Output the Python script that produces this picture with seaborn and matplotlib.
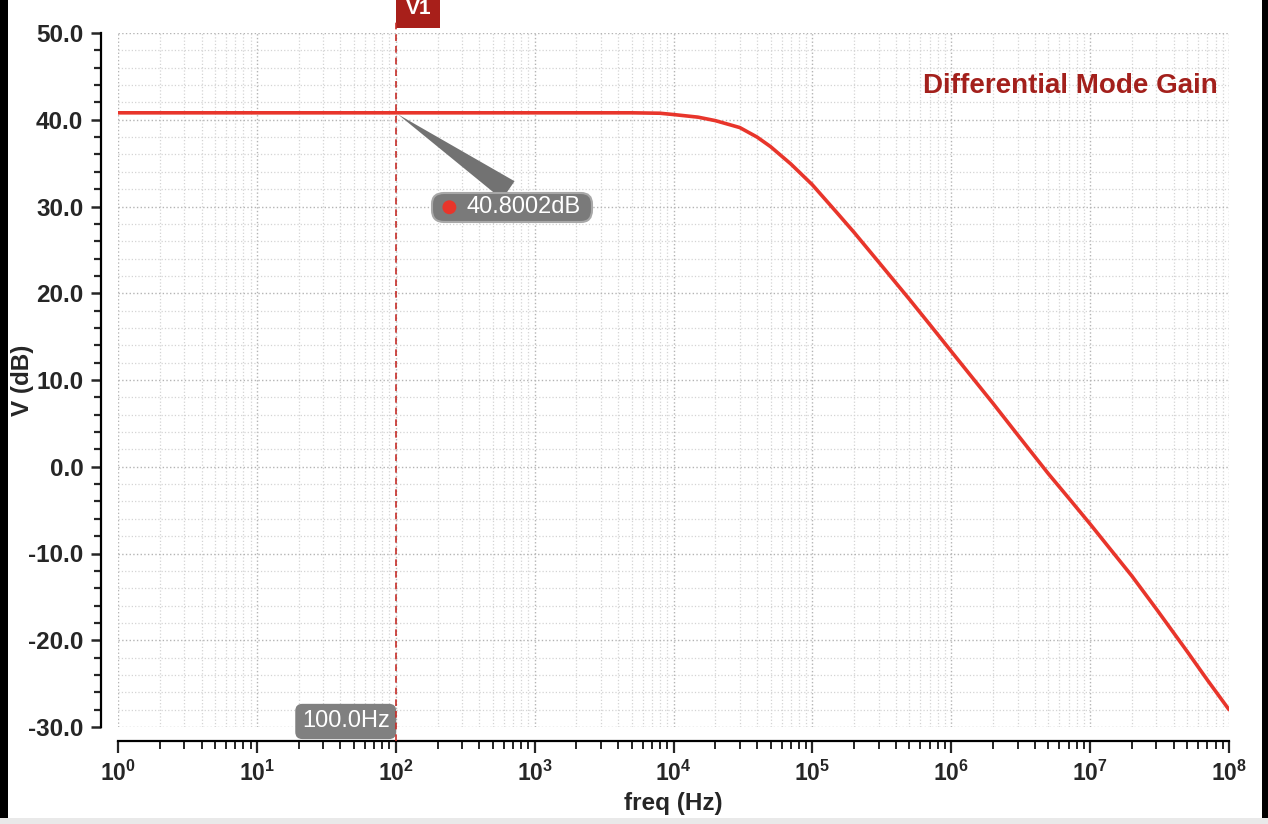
import numpy as np
import pandas as pd
import matplotlib
matplotlib.use("Agg")
from matplotlib import pyplot as plt
from matplotlib import ticker
from matplotlib.patches import Rectangle, Circle
from matplotlib.offsetbox import AnnotationBbox, DrawingArea, TextArea, HPacker
import seaborn as sns

# differential mode gain (Hz, dB)
freq_hz = [1, 10, 100, 1e3, 5e3, 8e3, 1e4, 1.5e4, 2e4, 3e4, 4e4, 5e4, 7e4,
           1e5, 1.5e5, 2e5, 3e5, 5e5, 7e5, 1e6, 2e6, 3e6, 5e6, 7e6,
           1e7, 2e7, 3e7, 5e7, 7e7, 1e8]
gain_db = [40.8, 40.8, 40.8, 40.8, 40.8, 40.75, 40.6, 40.3, 39.9, 39.1, 38.0, 36.9, 34.9,
           32.5, 29.3, 27.0, 23.6, 19.3, 16.4, 13.3, 7.3, 3.7, -0.8, -3.6,
           -6.6, -12.6, -16.4, -21.3, -24.6, -28.0]

# cursor marker
cursor_name = "V1"
cursor_freq = 100.0
cursor_gain = 40.8002
cursor_freq_label = "100.0Hz"
cursor_gain_label = "40.8002dB"

title = "Differential Mode Gain"
x_label = "freq (Hz)"
y_label = "V (dB)"
x_decades = list(range(0, 9))
y_range = (-30, 50)

sns.set_style("ticks")
plt.rcParams["font.family"] = ["Liberation Sans", "DejaVu Sans"]
plt.rcParams["mathtext.fontset"] = "custom"
plt.rcParams["mathtext.rm"] = "Liberation Sans"
plt.rcParams["mathtext.bf"] = "Liberation Sans:bold"

df = pd.DataFrame({"freq": freq_hz, "gain": gain_db})

fig = plt.figure(figsize=(12.68, 8.24), dpi=100)
ax = fig.add_axes([118 / 1268, 97 / 824, 1111 / 1268, 694 / 824])

# grid first
ax.set_axisbelow(True)
ax.grid(which="major", ls=":", color="#b4b4b4", lw=1.0)
ax.grid(which="minor", ls=":", color="#d4d4d4", lw=0.9)

sns.lineplot(data=df, x="freq", y="gain", ax=ax, color="#e8352b", lw=2.6,
             legend=False, zorder=4)

ax.set_xscale("log")
ax.set_xlim(10.0 ** x_decades[0], 10.0 ** x_decades[-1])
ax.set_ylim(*y_range)

ax.xaxis.set_major_locator(ticker.FixedLocator([10.0 ** k for k in x_decades]))
ax.xaxis.set_minor_locator(ticker.LogLocator(base=10, subs=np.arange(2, 10), numticks=20))
ax.xaxis.set_minor_formatter(ticker.NullFormatter())
ax.set_xticklabels([r"$\mathbf{10^{%d}}$" % k for k in x_decades])
ax.yaxis.set_major_locator(ticker.MultipleLocator(10))
ax.yaxis.set_minor_locator(ticker.MultipleLocator(2))
ax.yaxis.set_major_formatter(ticker.FormatStrFormatter("%.1f"))

sns.despine(ax=ax, offset={"left": 12, "bottom": 10})
for side in ("left", "bottom"):
    ax.spines[side].set_linewidth(1.6)
    ax.spines[side].set_color("black")

ax.tick_params(axis="y", which="major", direction="out", length=7, width=1.8,
               pad=6, labelsize=17.5)
ax.tick_params(axis="y", which="minor", direction="out", length=5, width=1.6)
ax.tick_params(axis="x", which="major", direction="out", length=8.5, width=1.6,
               pad=6, labelsize=16.5)
ax.tick_params(axis="x", which="minor", direction="out", length=5.5, width=1.4)
for lab in ax.get_yticklabels():
    lab.set_fontweight("bold")

ax.set_xlabel(x_label, fontsize=17.5, fontweight="bold", labelpad=4)
ax.set_ylabel(y_label, fontsize=17.5, fontweight="bold")
ax.yaxis.set_label_coords(-96 / 1111, 0.5)
ax.yaxis.label.set_verticalalignment("center")

ax.text(1 - 11 / 1111, 1 - 53 / 694, title, transform=ax.transAxes,
        ha="right", va="center", color="#a3201c", fontsize=20, fontweight="bold")

# cursor line
ax.axvline(cursor_freq, ymin=-14 / 694, ymax=1 + 12 / 694, clip_on=False,
           color="#c62d28", ls=(0, (4, 3)), lw=1.2, zorder=5)

# cursor name tag at top
ax.annotate(cursor_name, xy=(cursor_freq, 1), xycoords=("data", "axes fraction"),
            xytext=(16.2, 10.5), textcoords="offset points", ha="center", va="bottom",
            color="white", fontsize=15, fontweight="bold", annotation_clip=False,
            bbox=dict(boxstyle="square,pad=0.45", fc="#a81f1a", ec="none"))

# cursor frequency tag at bottom
ax.annotate(cursor_freq_label, xy=(cursor_freq, 0), xycoords=("data", "axes fraction"),
            xytext=(-36, 4), textcoords="offset points", ha="center", va="center",
            color="white", fontsize=17, annotation_clip=False, zorder=2,
            bbox=dict(boxstyle="round,pad=0.28,rounding_size=0.3", fc="#808080", ec="none"))

# gain callout with red dot
dot_area = DrawingArea(22, 16, 0, 0)
dot_area.add_artist(Circle((9.7, 8), 5, fc="#e8352b", ec="none"))
txt_area = TextArea(cursor_gain_label, textprops=dict(color="white", fontsize=17))
tail_area = DrawingArea(6, 16, 0, 0)
packed = HPacker(children=[dot_area, txt_area, tail_area], align="center", pad=0, sep=0)
callout = AnnotationBbox(packed, (cursor_freq, cursor_gain), xybox=(84, -68),
                         xycoords="data", boxcoords="offset points", pad=0,
                         fontsize=17, annotation_clip=False, zorder=6,
                         bboxprops=dict(boxstyle="round,pad=0.15,rounding_size=0.5",
                                        fc="#7a7a7a", ec="#a8a8a8", lw=1.5),
                         arrowprops=dict(arrowstyle="wedge,tail_width=0.95,shrink_factor=0.5",
                                         fc="#727272", ec="none", mutation_scale=12,
                                         relpos=(0.55, 0.9)))
ax.add_artist(callout)

# screenshot frame edges
fig.patches.extend([
    Rectangle((0, 0), 8 / 1268, 1, transform=fig.transFigure, fc="black", ec="none", zorder=-1),
    Rectangle((1 - 6 / 1268, 0), 6 / 1268, 1, transform=fig.transFigure, fc="black", ec="none", zorder=-1),
    Rectangle((0, 0), 1, 6 / 824, transform=fig.transFigure, fc="#e9e9e9", ec="none", zorder=-1),
])

fig.savefig("out.png", dpi=100)
